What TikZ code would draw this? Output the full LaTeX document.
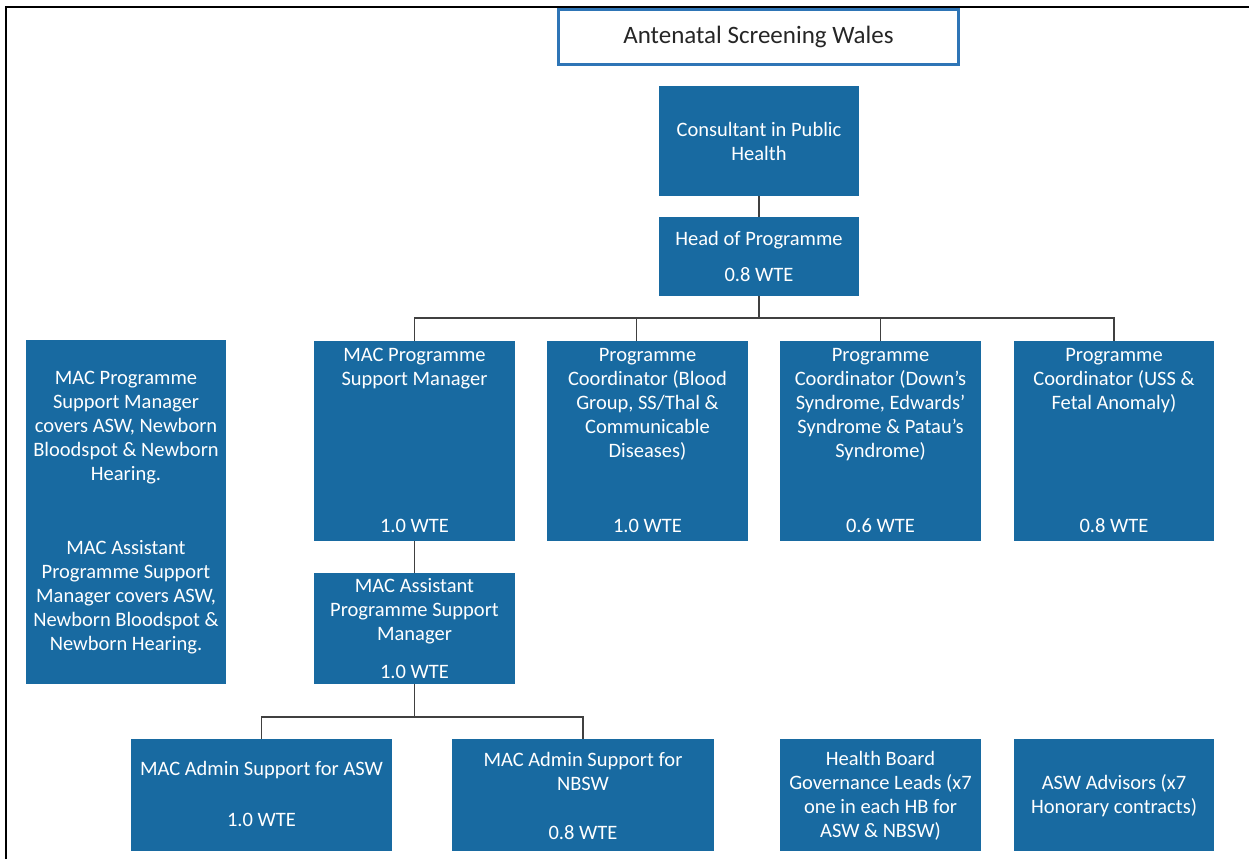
\documentclass[tikz,border=0pt]{standalone}
\usepackage{fontspec}
\setmainfont{Carlito}
\definecolor{boxblue}{RGB}{24,106,161}
\definecolor{titleblue}{RGB}{46,117,182}
\begin{document}
\begin{tikzpicture}[x=1pt,y=-1pt,
  box/.style={fill=boxblue, inner sep=0pt, outer sep=0pt, anchor=center},
  txt/.style={text=white, font=\fontsize{20.5}{24}\selectfont, align=center, inner sep=0pt, yshift=-1.5pt},
  conn/.style={draw=black!75, line width=1.2pt}]
\useasboundingbox (0,0) rectangle (1249,859);
\draw[line width=2pt] (6,859) -- (6,7) -- (1249,7);
% title
\node[draw=titleblue, line width=2.2pt, fill=white, minimum width=400pt, minimum height=55pt, inner sep=0pt] (title) at (758.5,37) {};
\node[font=\fontsize{25}{30}\selectfont, text=black!85, inner sep=0pt] (titletxt) at (758.5,37) {Antenatal Screening Wales};
% boxes
\node[box, minimum width=200pt, minimum height=110pt] (cons) at (759,141) {};
\node[box, minimum width=200pt, minimum height=79pt] (head) at (759,256.5) {};
\node[box, minimum width=200pt, minimum height=344pt] (left) at (126,512) {};
\node[box, minimum width=201pt, minimum height=200pt] (mpsm) at (414.5,441) {};
\node[box, minimum width=201pt, minimum height=200pt] (blood) at (647.5,441) {};
\node[box, minimum width=201pt, minimum height=200pt] (downs) at (880.5,441) {};
\node[box, minimum width=200pt, minimum height=200pt] (uss) at (1114,441) {};
\node[box, minimum width=201pt, minimum height=111pt] (asst) at (414.5,628.5) {};
\node[box, minimum width=261pt, minimum height=112pt] (adasw) at (261.5,795) {};
\node[box, minimum width=262pt, minimum height=112pt] (adnb) at (583,795) {};
\node[box, minimum width=201pt, minimum height=112pt] (hb) at (880.5,795) {};
\node[box, minimum width=200pt, minimum height=112pt] (adv) at (1114,795) {};
% texts
\node[txt] (t1) at (759,140) {Consultant in Public\\Health};
\node[txt] (t2) at (759,239) {Head of Programme};
\node[txt] (t3) at (759,273) {0.8 WTE};
\node[txt] (t4) at (126,426) {MAC Programme\\Support Manager\\covers ASW, Newborn\\Bloodspot \& Newborn\\Hearing.};
\node[txt] (t5) at (126,596) {MAC Assistant\\Programme Support\\Manager covers ASW,\\Newborn Bloodspot \&\\Newborn Hearing.};
\node[txt] (t6) at (414.5,367) {MAC Programme\\Support Manager};
\node[txt] (t7) at (414.5,524) {1.0 WTE};
\node[txt] (t8) at (647.5,403) {Programme\\Coordinator (Blood\\Group, SS/Thal \&\\Communicable\\Diseases)};
\node[txt] (t9) at (647.5,524) {1.0 WTE};
\node[txt] (t10) at (880.5,403) {Programme\\Coordinator (Down’s\\Syndrome, Edwards’\\Syndrome \& Patau’s\\Syndrome)};
\node[txt] (t11) at (880.5,524) {0.6 WTE};
\node[txt] (t12) at (1114,379) {Programme\\Coordinator (USS \&\\Fetal Anomaly)};
\node[txt] (t13) at (1114,524) {0.8 WTE};
\node[txt] (t14) at (414.5,610) {MAC Assistant\\Programme Support\\Manager};
\node[txt] (t15) at (414.5,670) {1.0 WTE};
\node[txt] (t16) at (261.5,769) {MAC Admin Support for ASW};
\node[txt] (t17) at (261.5,818) {1.0 WTE};
\node[txt] (t18) at (583,770) {MAC Admin Support for\\NBSW};
\node[txt] (t19) at (583,831) {0.8 WTE};
\node[txt] (t20) at (880.5,794) {Health Board\\Governance Leads (x7\\one in each HB for\\ASW \& NBSW)};
\node[txt] (t21) at (1114,794) {ASW Advisors (x7\\Honorary contracts)};
% connectors
\draw[conn] (cons.south) -- (head.north);
\draw[conn] (head.south) -- ++(0,22) coordinate (bus);
\draw[conn] (mpsm.north) |- (bus) -| (uss.north);
\draw[conn] ([xshift=-11pt]blood.north) -- ([xshift=-11pt]blood.north |- bus);
\draw[conn] (downs.north) -- (downs.north |- bus);
\draw[conn] (mpsm.south) -- (asst.north);
\draw[conn] (asst.south) -- ++(0,33) coordinate (bus2);
\draw[conn] (adasw.north) |- (bus2) -| (adnb.north);
\end{tikzpicture}
\end{document}
